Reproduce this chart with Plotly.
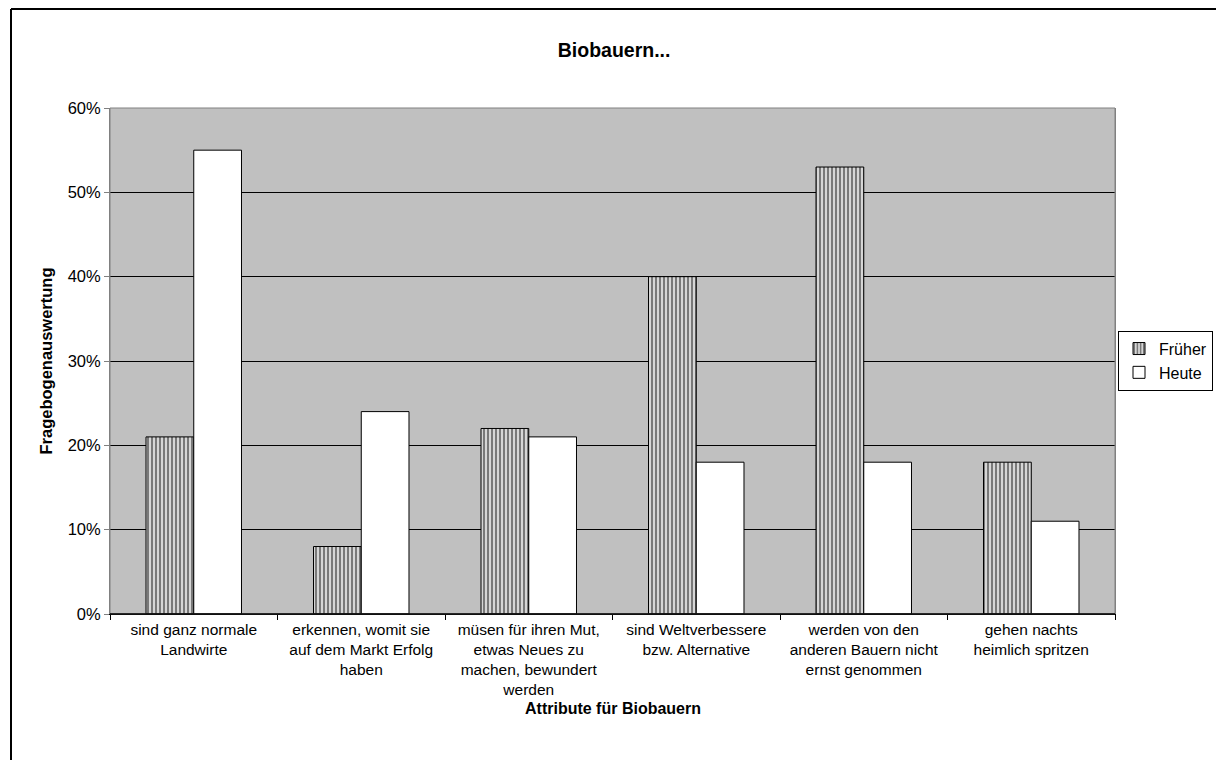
import plotly.graph_objects as go

categories = [
    "sind ganz normale<br>Landwirte",
    "erkennen, womit sie<br>auf dem Markt Erfolg<br>haben",
    "müsen für ihren Mut,<br>etwas Neues zu<br>machen, bewundert<br>werden",
    "sind Weltverbessere<br>bzw. Alternative",
    "werden von den<br>anderen Bauern nicht<br>ernst genommen",
    "gehen nachts<br>heimlich spritzen",
]
frueher = [0.21, 0.08, 0.22, 0.40, 0.53, 0.18]
heute = [0.55, 0.24, 0.21, 0.18, 0.18, 0.11]

FONT = "Liberation Sans, Arial, sans-serif"

fig = go.Figure()
fig.add_trace(go.Bar(
    x=categories, y=frueher, name="Früher",
    marker=dict(color="white", line=dict(color="black", width=1),
                pattern=dict(shape="|", fgcolor="#111111", bgcolor="#e0e0e0", size=4, solidity=0.55)),
))
fig.add_trace(go.Bar(
    x=categories, y=heute, name="Heute",
    marker=dict(color="white", line=dict(color="black", width=1)),
))

fig.update_layout(
    width=1216, height=760,
    margin=dict(l=110, r=101, t=108, b=146, autoexpand=False),
    paper_bgcolor="white", plot_bgcolor="#C0C0C0",
    barmode="group", bargap=0.43, bargroupgap=0,
    font=dict(family=FONT, size=16, color="black"),
    title=dict(text="<b>Biobauern...</b>", x=0.505, xanchor="center", y=0.934, yanchor="middle",
               font=dict(size=19.5)),
    legend=dict(x=1.003, y=0.56, xanchor="left", yanchor="top",
                bordercolor="black", borderwidth=1, bgcolor="white",
                font=dict(size=16), itemwidth=30, tracegroupgap=0),
    xaxis=dict(
        showline=True, linecolor="black", linewidth=1,
        ticks="outside", tickson="boundaries", ticklen=5, tickcolor="black",
        tickfont=dict(size=15.5), tickangle=0, ticklabelstandoff=1,
        mirror=False, automargin=False,
    ),
    yaxis=dict(
        title=dict(text="<b>Fragebogenauswertung</b>", font=dict(size=16.5), standoff=10),
        range=[0, 0.6], dtick=0.1, tickformat=".0%",
        showgrid=True, gridcolor="black", gridwidth=1,
        showline=True, linecolor="#808080", linewidth=1, mirror=True,
        ticks="outside", ticklen=5, tickcolor="#808080",
        tickfont=dict(size=16.5), zeroline=False, automargin=False,
    ),
    annotations=[
        dict(text="<b>Attribute für Biobauern</b>", xref="paper", yref="paper",
             x=0.5, y=(614 - 708) / 506, xanchor="center", yanchor="middle",
             showarrow=False, font=dict(size=16)),
    ],
    shapes=[
        dict(type="rect", xref="paper", yref="paper", x0=0, x1=1, y0=0, y1=1,
             line=dict(color="#808080", width=1), layer="above"),
        dict(type="line", xref="paper", yref="paper", x0=0, x1=1, y0=0, y1=0,
             line=dict(color="black", width=1.5), layer="above"),
        dict(type="line", xref="paper", yref="paper",
             x0=-(110 - 11) / 1005, x1=(1216 - 110) / 1005,
             y0=(614 - 9) / 506, y1=(614 - 9) / 506,
             line=dict(color="black", width=2)),
        dict(type="line", xref="paper", yref="paper",
             x0=-(110 - 11) / 1005, x1=-(110 - 11) / 1005,
             y0=(614 - 9) / 506, y1=-(760 - 614) / 506,
             line=dict(color="black", width=2)),
    ],
)

fig.write_html("out.html")
